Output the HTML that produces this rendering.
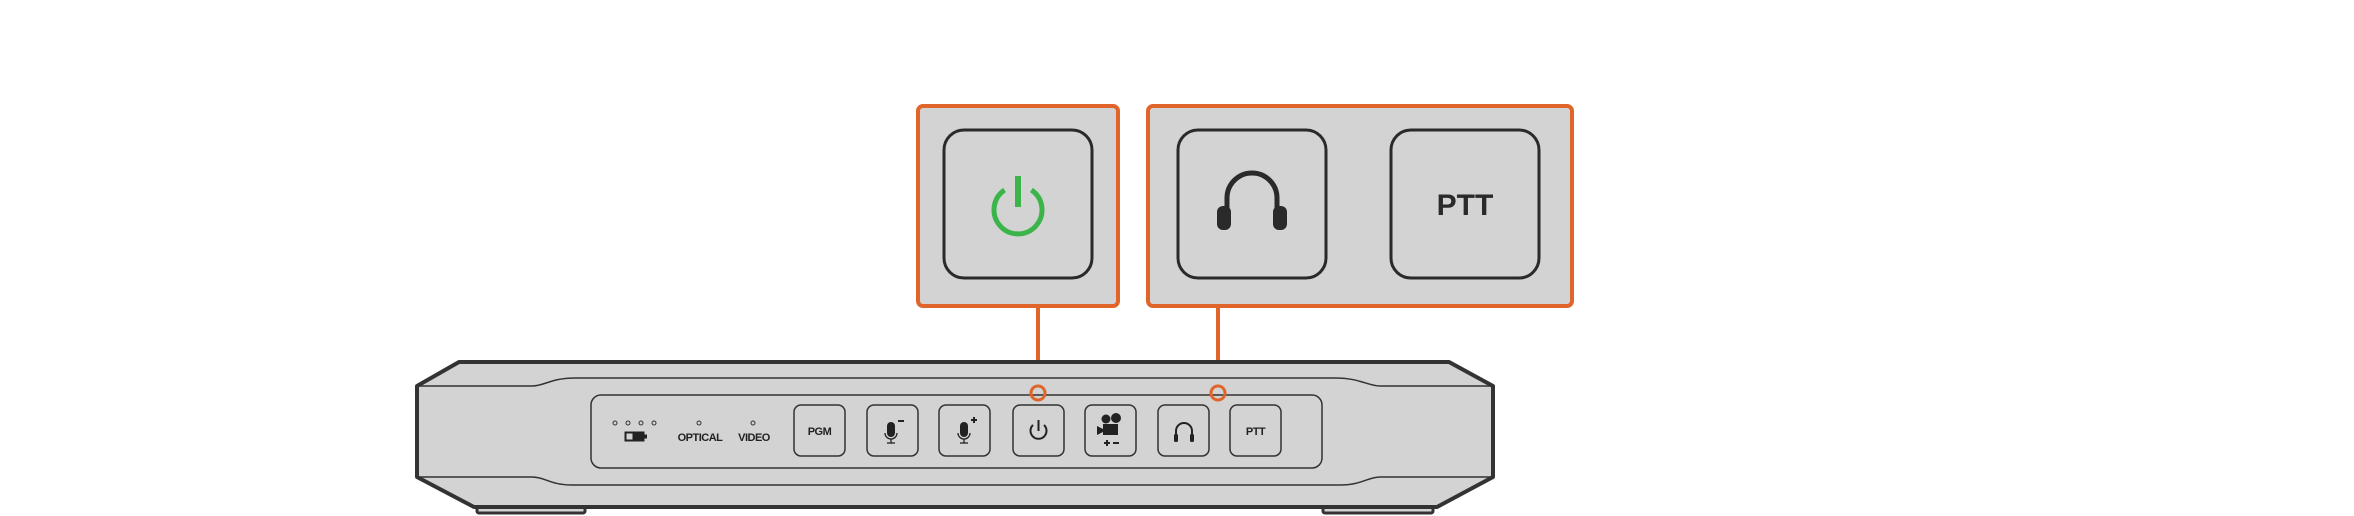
<!DOCTYPE html>
<html><head><style>html,body{margin:0;padding:0;background:#fff}svg{display:block}</style></head>
<body>
<svg width="2354" height="516" viewBox="0 0 2354 516" xmlns="http://www.w3.org/2000/svg" font-family="'Liberation Sans', sans-serif">
<!-- callout boxes -->
<rect x="918" y="106" width="200" height="200" rx="5" fill="#d3d3d3" stroke="#e0652a" stroke-width="4"/>
<rect x="1148" y="106" width="424" height="200" rx="5" fill="#d3d3d3" stroke="#e0652a" stroke-width="4"/>
<rect x="944" y="130" width="148" height="148" rx="20" fill="#d3d3d3" stroke="#2a2a2a" stroke-width="3"/>
<rect x="1178" y="130" width="148" height="148" rx="20" fill="#d3d3d3" stroke="#2a2a2a" stroke-width="3"/>
<rect x="1391" y="130" width="148" height="148" rx="20" fill="#d3d3d3" stroke="#2a2a2a" stroke-width="3"/>
<!-- big power icon -->
<path d="M1004.6 190 A24 24 0 1 0 1031.4 190" fill="none" stroke="#3bb54a" stroke-width="5"/>
<line x1="1018" y1="176" x2="1018" y2="207" stroke="#3bb54a" stroke-width="6"/>
<!-- big headphones -->
<path d="M1227 212 V198 A25 25 0 0 1 1277 198 V212" fill="none" stroke="#2a2a2a" stroke-width="5"/>
<rect x="1217" y="206" width="14" height="24" rx="6" fill="#2a2a2a"/>
<rect x="1273" y="206" width="14" height="24" rx="6" fill="#2a2a2a"/>
<text x="1465" y="215" text-anchor="middle" font-size="30" font-weight="bold" fill="#2a2a2a">PTT</text>
<!-- connectors -->
<line x1="1038" y1="307" x2="1038" y2="386" stroke="#e0652a" stroke-width="4"/>
<line x1="1218" y1="307" x2="1218" y2="386" stroke="#e0652a" stroke-width="4"/>
<!-- device -->
<rect x="477" y="505" width="108" height="8" rx="2" fill="#d3d3d3" stroke="#333" stroke-width="3"/>
<rect x="1323" y="505" width="110" height="8" rx="2" fill="#d3d3d3" stroke="#333" stroke-width="3"/>
<polygon points="459,362 1449,362 1493,386 1493,477 1437,507 474,507 417,477 417,386" fill="#d3d3d3" stroke="#333" stroke-width="4" stroke-linejoin="round"/>
<path d="M417 386 H532 C545 386 550 378 576 378 H1335 C1360 378 1368 386 1380 386 H1493" fill="none" stroke="#333" stroke-width="1.5"/>
<path d="M417 477 H532 C545 477 550 485 572 485 H1340 C1362 485 1368 477 1380 477 H1493" fill="none" stroke="#333" stroke-width="1.5"/>
<rect x="591" y="395" width="731" height="73" rx="10" fill="#d3d3d3" stroke="#333" stroke-width="1.5"/>
<!-- LEDs -->
<g fill="none" stroke="#333" stroke-width="1">
<circle cx="615" cy="423" r="2"/><circle cx="628" cy="423" r="2"/><circle cx="641" cy="423" r="2"/><circle cx="654" cy="423" r="2"/>
<circle cx="699" cy="423" r="2"/><circle cx="753" cy="423" r="2"/>
</g>
<rect x="625" y="432" width="19" height="9" fill="#222" stroke="#222"/>
<rect x="644" y="434.5" width="3" height="4" fill="#222"/>
<rect x="626.5" y="433.5" width="6" height="6" fill="#d3d3d3"/>
<text x="700" y="441" text-anchor="middle" font-size="11" font-weight="bold" fill="#222" letter-spacing="-0.5">OPTICAL</text>
<text x="754" y="441" text-anchor="middle" font-size="11" font-weight="bold" fill="#222" letter-spacing="-0.5">VIDEO</text>
<!-- small buttons -->
<g fill="#d3d3d3" stroke="#333" stroke-width="1.5">
<rect x="794" y="405" width="51" height="51" rx="7"/>
<rect x="867" y="405" width="51" height="51" rx="7"/>
<rect x="939" y="405" width="51" height="51" rx="7"/>
<rect x="1013" y="405" width="51" height="51" rx="7"/>
<rect x="1085" y="405" width="51" height="51" rx="7"/>
<rect x="1158" y="405" width="51" height="51" rx="7"/>
<rect x="1230" y="405" width="51" height="51" rx="7"/>
</g>
<text x="819.5" y="435" text-anchor="middle" font-size="11" font-weight="bold" fill="#222" letter-spacing="-0.5">PGM</text>
<text x="1255.5" y="435" text-anchor="middle" font-size="11" font-weight="bold" fill="#222" letter-spacing="-0.5">PTT</text>
<!-- mic icons -->
<g fill="#222" stroke="#222">
<rect x="887" y="422" width="8" height="15" rx="4" stroke="none"/>
<path d="M885 433 A6 6 0 0 0 897 433" fill="none" stroke-width="1.3"/>
<line x1="891" y1="439" x2="891" y2="443" stroke-width="1.3"/><line x1="887" y1="443" x2="895" y2="443" stroke-width="1.3"/>
<line x1="898" y1="421" x2="904" y2="421" stroke-width="2"/>
<rect x="960" y="422" width="8" height="15" rx="4" stroke="none"/>
<path d="M958 433 A6 6 0 0 0 970 433" fill="none" stroke-width="1.3"/>
<line x1="964" y1="439" x2="964" y2="443" stroke-width="1.3"/><line x1="960" y1="443" x2="968" y2="443" stroke-width="1.3"/>
<line x1="971" y1="420" x2="977" y2="420" stroke-width="2"/><line x1="974" y1="417" x2="974" y2="423" stroke-width="2"/>
</g>
<!-- small power -->
<path d="M1033 425 A8 8 0 1 0 1044 425" fill="none" stroke="#222" stroke-width="2"/>
<line x1="1038.5" y1="420" x2="1038.5" y2="431" stroke="#222" stroke-width="2"/>
<!-- camera icon -->
<g fill="#222">
<circle cx="1106" cy="419" r="4.5"/><circle cx="1116" cy="418" r="5"/>
<rect x="1103" y="424" width="15" height="11"/>
<polygon points="1097,426 1103,429 1103,432 1097,435"/>
<rect x="1104" y="442" width="6" height="2"/><rect x="1106" y="440" width="2" height="6"/>
<rect x="1113" y="442" width="6" height="2"/>
</g>
<!-- small headphones -->
<path d="M1176 438 V431 A8 8 0 0 1 1192 431 V438" fill="none" stroke="#222" stroke-width="2"/>
<rect x="1174" y="434" width="4" height="8" rx="1.5" fill="#222"/><rect x="1190" y="434" width="4" height="8" rx="1.5" fill="#222"/>
<!-- connector end circles -->
<circle cx="1038" cy="393" r="7" fill="none" stroke="#e0652a" stroke-width="3"/>
<circle cx="1218" cy="393" r="7" fill="none" stroke="#e0652a" stroke-width="3"/>
</svg>
</body></html>
